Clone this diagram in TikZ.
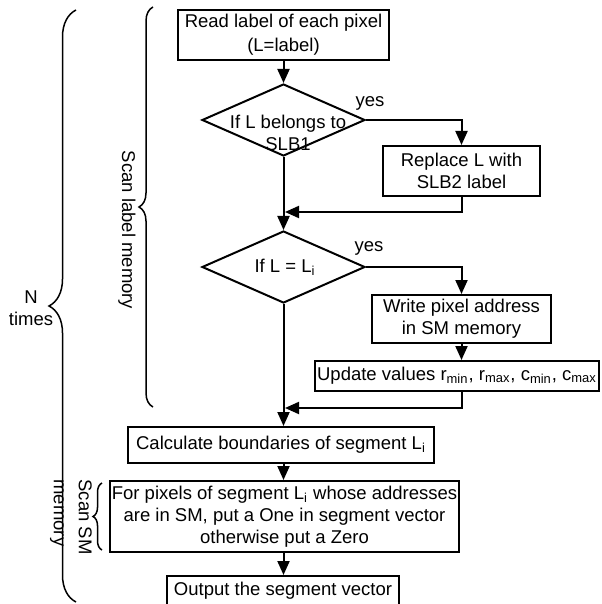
\documentclass[tikz,border=0pt]{standalone}
\usepackage{fontspec}
\setmainfont{Liberation Sans}
\usetikzlibrary{shapes.geometric,arrows.meta,decorations.pathreplacing}
\tikzset{
  box/.style={draw, line width=1pt, inner sep=0pt, align=center},
  dia/.style={draw, diamond, line width=1pt, inner sep=0pt, minimum width=81.5pt, minimum height=36pt},
  arr/.style={line width=1pt, -{Triangle[width=6pt,length=7pt]}},
  txt/.style={inner sep=0pt, align=center},
  brc/.style={decorate, line width=0.75pt, decoration={brace, amplitude=#1}},
}
\begin{document}
\begin{tikzpicture}[x=0.5pt,y=-0.5pt, font=\fontsize{9.25pt}{11pt}\selectfont]
\fill[white] (0,0) rectangle (601,604);
\clip (0,0) rectangle (601,604);
% boxes
\node[box, minimum width=105.5pt, minimum height=25pt, font=\fontsize{9.25pt}{12pt}\selectfont] (b1) at (283.5,35) {Read label of each pixel\\(L=label)};
\node[dia] (d1) at (283.5,120) {};
\node[txt] (t1) at (288,132.5) {If L belongs to\\SLB1};
\node[box, minimum width=78.5pt, minimum height=25pt] (b2) at (461.5,171) {Replace L with\\SLB2 label};
\node[dia] (d2) at (283.5,267) {};
\node[txt] (t2) at (285,267) {If L = L\textsubscript{i}};
\node[box, minimum width=89.5pt, minimum height=24pt] (b3) at (461.5,319) {Write pixel address\\in SM memory};
\node[box, minimum width=142pt, minimum height=15pt] (b4) at (457,376) {Update values r\textsubscript{min}, r\textsubscript{max}, c\textsubscript{min}, c\textsubscript{max}};
\node[box, minimum width=153pt, minimum height=18pt] (b5) at (281,445) {Calculate boundaries of segment L\textsubscript{i}};
\node[box, minimum width=174.5pt, minimum height=35.5pt] (b6) at (284.5,516.5) {For pixels of segment L\textsubscript{i} whose addresses\\are in SM, put a One in segment vector\\otherwise put a Zero};
\node[box, minimum width=116pt, minimum height=15pt] (b7) at (283,591) {Output the segment vector};
% yes labels
\node[txt] (y1) at (370,103) {yes};
\node[txt] (y2) at (369,248) {yes};
% connectors
\coordinate (j1) at (285,212);
\coordinate (j2) at (285,408);
\draw[arr] (b1) -- (d1);
\draw[arr] (d1.east) -| (b2.north);
\draw[arr] (b2.south) |- (j1);
\draw[arr] (d1) -- (d2);
\draw[arr] (d2.east) -| (b3.north);
\draw[arr] (b3.south) -- (b3.south |- b4.north);
\draw[arr] (b3.south |- b4.south) |- (j2);
\draw[arr] (d2.south) -- (d2.south |- b5.north);
\draw[arr] (b5.south -| d2.south) -- (d2.south |- b6.north);
\draw[arr] (b6.south -| d2.south) -- (d2.south |- b7.north);
% braces
\coordinate (ba1) at (76,602);
\coordinate (ba2) at (76,10);
\draw[brc=13.5pt] (ba1) -- (ba2);
\node[txt] (nt) at (31,308) {N\\times};
\coordinate (bb1) at (153,407);
\coordinate (bb2) at (153,7);
\draw[brc=7pt] (bb1) -- (bb2);
\node[txt, rotate=-90] (sl) at (127,230) {Scan label memory};
\coordinate (bc1) at (102,550);
\coordinate (bc2) at (102,483);
\draw[brc=4.5pt] (bc1) -- (bc2);
\node[inner sep=0pt, align=left, rotate=-90, font=\fontsize{9.25pt}{12.5pt}\selectfont] (ss) at (71,517) {Scan SM\\memory};
\end{tikzpicture}
\end{document}
